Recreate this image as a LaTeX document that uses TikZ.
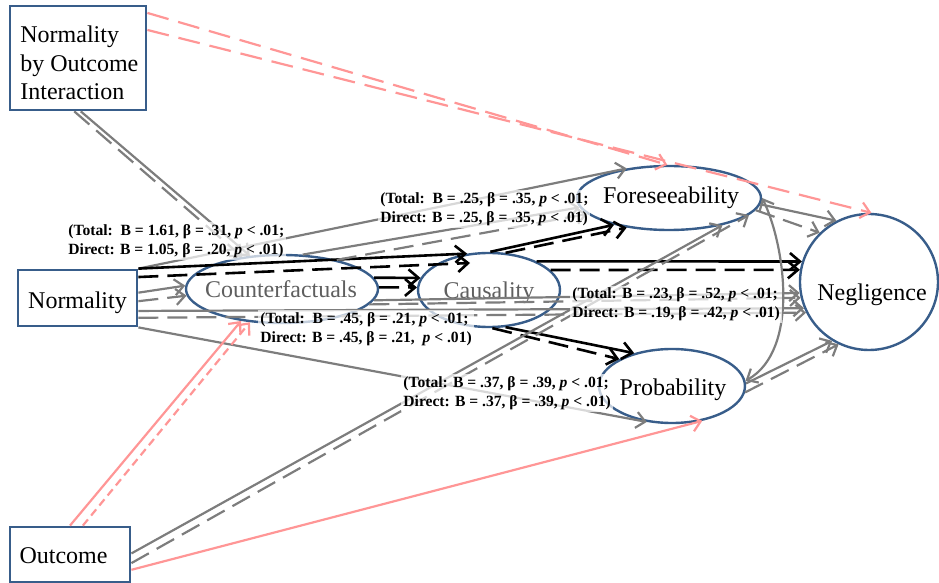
\documentclass[tikz,border=0pt]{standalone}
\usepackage{fontspec}
\setmainfont{Liberation Serif}
\usetikzlibrary{shapes.geometric,arrows.meta,calc}
\definecolor{nodeblue}{RGB}{56,93,138}
\definecolor{lgray}{RGB}{125,125,125}
\definecolor{lpink}{RGB}{255,150,150}
\definecolor{txtgray}{RGB}{95,95,95}
\begin{document}
\begin{tikzpicture}[x=0.5pt,y=-0.5pt,
  box/.style={draw=nodeblue,line width=1.4pt,inner sep=0pt},
  ell/.style={ellipse,draw=nodeblue,line width=1.2pt,fill=white,inner sep=0pt},
  bigtext/.style={font=\fontsize{12}{14.25}\selectfont,inner sep=0pt},
  myarrow/.style={-{Straight Barb[length=4.5pt,width=8pt]}},
  graysolid/.style={myarrow,draw=lgray,line width=1.1pt},
  graydash/.style={graysolid,dash pattern=on 10pt off 4.5pt},
  grayboth/.style={arrows={Straight Barb[length=4.5pt,width=8pt]-Straight Barb[length=4.5pt,width=8pt]},draw=lgray,line width=1.1pt},
  blacksolid/.style={-{Straight Barb[length=5pt,width=8.5pt]},draw=black,line width=1.3pt},
  blackdash/.style={blacksolid,dash pattern=on 10pt off 4.5pt},
  pinksolid/.style={myarrow,draw=lpink,line width=1.1pt},
  pinkdash/.style={pinksolid,dash pattern=on 11pt off 5pt},
  pinkshort/.style={pinksolid,dash pattern=on 4pt off 2.5pt},
  coef/.style={font=\fontsize{7.8}{9.5}\selectfont\bfseries,align=left,anchor=west,fill=white,fill opacity=0.7,text opacity=1,inner sep=1pt}
]
\useasboundingbox (0,0) rectangle (939,583);

% boxes
\node[box,minimum width=68pt,minimum height=52pt] (noi) at (78,58) {};
\node[bigtext,align=left,anchor=west] (noit) at (20,63) {Normality\\by Outcome\\Interaction};
\node[box,minimum width=59.5pt,minimum height=28pt] (nrm) at (77.5,298) {};
\node[bigtext,anchor=base] (nrmt) at (77.5,308) {Normality};
\node[box,minimum width=60pt,minimum height=27.5pt] (out) at (70,554.5) {};
\node[bigtext,anchor=base] (outt) at (63.5,563) {Outcome};

% ellipses
\node[ell,minimum width=96pt,minimum height=34pt] (cf) at (282,289) {};
\node[bigtext,anchor=base,text=txtgray] (cft) at (281,298) {Counterfactuals};
\node[ell,minimum width=71pt,minimum height=37pt] (cau) at (489,290) {};
\node[bigtext,anchor=base,text=txtgray] (caut) at (489,299) {Causality};
\node[ell,minimum width=92pt,minimum height=32pt] (fore) at (669,198) {};
\node[bigtext,anchor=base] (foret) at (671,204) {Foreseeability};
\node[ell,minimum width=73pt,minimum height=37pt] (prob) at (672,386) {};
\node[bigtext,anchor=base] (probt) at (673,395) {Probability};
\node[ell,minimum width=69pt,minimum height=68pt] (neg) at (869,282) {};
\node[bigtext,anchor=base] (negt) at (872,300) {Negligence};

% Normality by Outcome Interaction
\draw[pinkdash] (noi.33) -- (fore.93);
\draw[pinkdash] (noi.22) -- (neg.88);
\draw[graysolid] (noi.273) -- (cf.134);
\draw[graydash] (noi.266) -- (cf.141);

% Normality
\draw[graysolid] (nrm.north east) -- (fore.145);
\draw[blacksolid] (nrm.north east) -- (cau.121);
\draw[blackdash] (nrm.19) -- ($(cau.center)+(-19,-27)$);
\draw[graysolid] (nrm.5) -- (cf.178);
\draw[graydash] (nrm.-3) -- (cf.184);
\draw[graysolid] (nrm.-12) -- (neg.202);
\draw[graydash] (nrm.-18) -- (neg.206);
\draw[graysolid] (nrm.south east) -- (prob.235);

% Counterfactuals
\draw[graysolid] (cf.-7) -- (neg.189);
\draw[graydash] (cf.-10) -- (neg.193);
\draw[graysolid] (cf.59) -- (fore.186);
\draw[graydash] (cf.28) -- (fore.191);
\draw[blacksolid] (cf.7) -- (cau.170);
\draw[blackdash] (cf.1) -- (cau.178);

% Causality
\draw[blacksolid] (cau.88) -- (fore.206);
\draw[blackdash] (cau.66) -- (fore.215);
\draw[blacksolid] (cau.31) -- (neg.163);
\draw[blackdash] (cau.18) -- (neg.170);
\draw[blacksolid] (cau.294) -- (prob.139);
\draw[blackdash] (cau.275) -- (prob.153);

% Outcome
\draw[graysolid] (out.1) -- (fore.333);
\draw[graydash] (out.-8) -- (fore.-12);
\draw[pinksolid] (out.-14) -- (prob.-49);
\draw[pinksolid] (out.north) -- (cf.218);
\draw[pinkshort] (out.66) -- (cf.226);

% to Negligence
\draw[graysolid] (fore.-4) -- (neg.118);
\draw[graydash] (fore.-8) -- (neg.135);
\draw[graysolid] (prob.2) -- (neg.238);
\draw[graydash] (prob.-5) -- (neg.244);

% covariance
\draw[grayboth] (fore.0) .. controls (785,245) and (800,350) .. (prob.4);

% coefficient labels
\node[coef] (l1) at (66,241) {(Total:\ \ B = 1.61, β = .31, \textit{p} < .01;\\Direct: B = 1.05, β = .20, \textit{p} < .01)};
\node[coef] (l2) at (378,209) {(Total:\ \ B = .25, β = .35, \textit{p} < .01;\\Direct: B = .25, β = .35, \textit{p} < .01)};
\node[coef] (l3) at (258,329) {(Total:\ \ B = .45, β = .21, \textit{p} < .01;\\Direct: B = .45, β = .21,\ \ \textit{p} < .01)};
\node[coef] (l4) at (570,304.5) {(Total: B = .23, β = .52, \textit{p} < .01;\\Direct: B = .19, β = .42, \textit{p} < .01)};
\node[coef] (l5) at (401,393) {(Total: B = .37, β = .39, \textit{p} < .01;\\Direct: B = .37, β = .39, \textit{p} < .01)};
\end{tikzpicture}
\end{document}
